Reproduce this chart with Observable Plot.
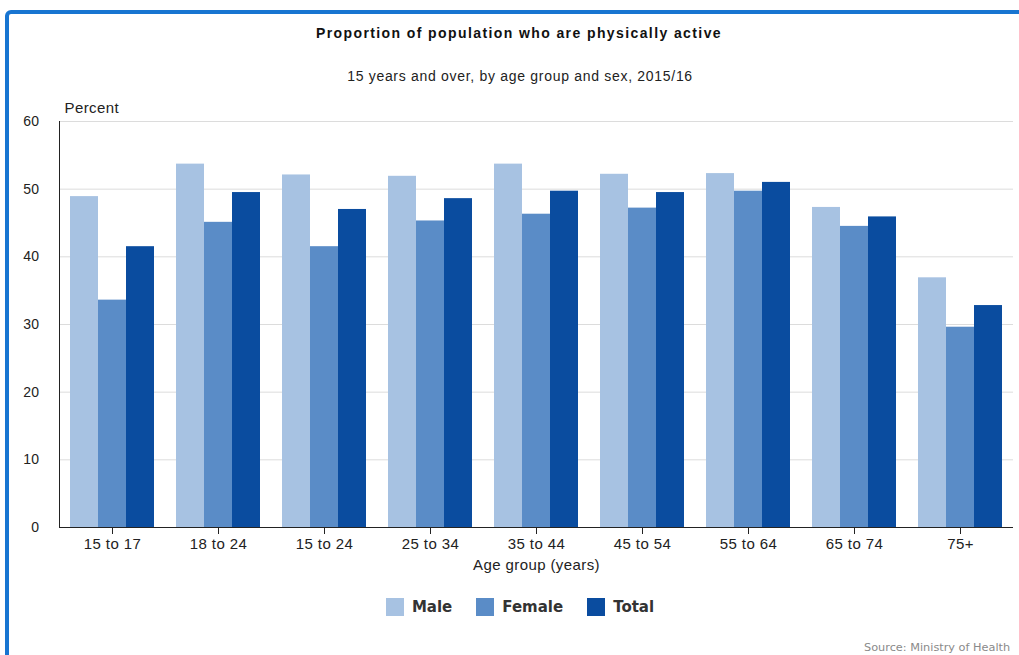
<!DOCTYPE html>
<html>
<head>
<meta charset="utf-8">
<script src="https://cdn.jsdelivr.net/npm/d3@7"></script>
<script src="https://cdn.jsdelivr.net/npm/@observablehq/plot@0.6"></script>
<style>
  html, body { margin: 0; padding: 0; background: #fff; }
  body { width: 1019px; height: 655px; overflow: hidden; position: relative; font-family: "Liberation Sans", Arial, sans-serif; }
  #frame { position: absolute; left: 5px; top: 10px; width: 1100px; height: 700px; border: 4px solid #1875d1; border-radius: 6px; box-sizing: border-box; }
  #title { position: absolute; left: 0; top: 24px; width: 1038px; text-align: center; font-weight: bold; font-size: 14px; line-height: 18px; color: #111; letter-spacing: 1.4px; }
  #subtitle { position: absolute; left: 0; top: 67px; width: 1040px; text-align: center; font-size: 14px; line-height: 18px; color: #222; letter-spacing: 0.7px; }
  #chart { position: absolute; left: 0; top: 90px; }
  #legend { position: absolute; left: 0; top: 597px; width: 1040px; display: flex; justify-content: center; gap: 24px; font-family: "DejaVu Sans", Verdana, sans-serif; font-weight: bold; font-size: 15px; color: #333; }
  #legend .item { display: flex; align-items: center; gap: 8px; line-height: 20px; }
  #legend .sw { width: 18px; height: 18px; display: inline-block; }
  #source { position: absolute; left: 864px; top: 641px; font-family: "DejaVu Sans", Verdana, sans-serif; font-size: 11.3px; color: #8a8a8a; white-space: nowrap; }
</style>
</head>
<body>
<div id="frame"></div>
<div id="title">Proportion of population who are physically active</div>
<div id="subtitle">15 years and over, by age group and sex, 2015/16</div>
<div id="chart"></div>
<div id="legend"></div>
<div id="source">Source: Ministry of Health</div>
<script>
const ages = ["15 to 17", "18 to 24", "15 to 24", "25 to 34", "35 to 44", "45 to 54", "55 to 64", "65 to 74", "75+"];
const sexes = ["Male", "Female", "Total"];
const male = [48.9, 53.7, 52.1, 51.9, 53.7, 52.2, 52.3, 47.3, 36.9];
const female = [33.6, 45.1, 41.5, 45.3, 46.3, 47.2, 49.7, 44.5, 29.6];
const total = [41.5, 49.5, 47.0, 48.6, 49.7, 49.5, 51.0, 45.9, 32.8];
const yTicks = [0, 10, 20, 30, 40, 50, 60];
const colors = ["#a7c2e2", "#5a8cc7", "#0a4c9f"];

const series = [male, female, total];
const data = [];
ages.forEach((age, i) => {
  sexes.forEach((sex, j) => data.push({age, sex, value: series[j][i]}));
});

const chart = Plot.plot({
  width: 1019,
  height: 490,
  marginTop: 31,
  marginBottom: 53,
  marginLeft: 56,
  marginRight: 3,
  style: {fontFamily: "'Liberation Sans', Arial, sans-serif", fontSize: "15px", color: "#222", background: "transparent", letterSpacing: "0.4px"},
  fx: {domain: ages, padding: 0, label: null},
  x: {domain: sexes, paddingInner: 0, paddingOuter: 0.39, axis: null},
  y: {domain: [0, 60], label: null},
  color: {domain: sexes, range: colors},
  marks: [
    Plot.gridY(yTicks, {stroke: "#dcdcdc", strokeOpacity: 1}),
    Plot.barY(data, {fx: "age", x: "sex", y: "value", fill: "sex"}),
    Plot.ruleY([0], {stroke: "#222"}),
    Plot.frame({anchor: "left", stroke: "#222", facet: "super"}),
    Plot.axisY(yTicks, {tickSize: 0, tickPadding: 20, label: null, fontSize: 14}),
    Plot.axisFx({anchor: "bottom", tickSize: 7, tickPadding: 4, label: "Age group (years)", labelAnchor: "center", labelOffset: 42}),
    Plot.text(["Percent"], {text: d => d, frameAnchor: "top-left", dx: 5, dy: -13, lineAnchor: "middle", textAnchor: "start", facet: "super"})
  ]
});
document.getElementById("chart").appendChild(chart);

const legend = document.getElementById("legend");
sexes.forEach((s, i) => {
  const item = document.createElement("div");
  item.className = "item";
  const sw = document.createElement("span");
  sw.className = "sw";
  sw.style.background = colors[i];
  const t = document.createElement("span");
  t.textContent = s;
  item.appendChild(sw);
  item.appendChild(t);
  legend.appendChild(item);
});
</script>
</body>
</html>
